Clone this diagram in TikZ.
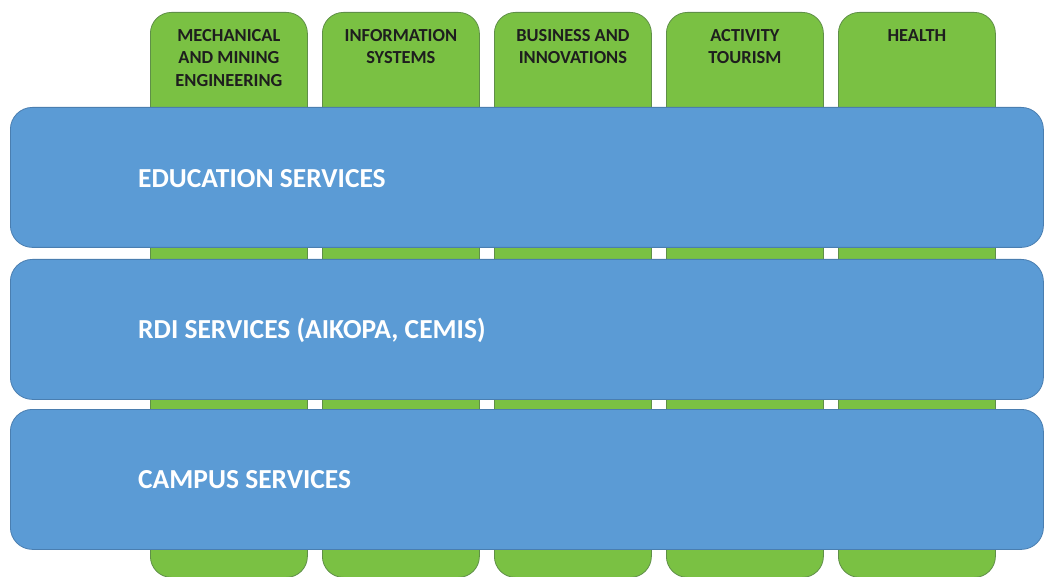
\documentclass[tikz,border=0pt]{standalone}
\usepackage{fontspec}
\setmainfont{Carlito}
\definecolor{colgreen}{HTML}{7AC143}
\definecolor{colgreenedge}{HTML}{5F8F48}
\definecolor{bandblue}{HTML}{5B9BD5}
\definecolor{bandedge}{HTML}{4A7EB0}
\definecolor{coltext}{HTML}{1E1E1E}
\begin{document}
\begin{tikzpicture}[x=1pt,y=-1pt,
  colbox/.style={draw=colgreenedge,fill=colgreen,line width=0.8pt,rounded corners=21pt,
    minimum width=157pt,minimum height=565pt,inner sep=0pt,anchor=north west},
  coltitle/.style={anchor=north,align=center,text=coltext,inner sep=0pt,
    font=\fontsize{18.4}{22.7}\selectfont\bfseries},
  bandbox/.style={draw=bandedge,fill=bandblue,line width=0.8pt,rounded corners=22pt,
    minimum width=1033pt,minimum height=140pt,inner sep=0pt,anchor=north west},
  bandtitle/.style={anchor=west,text=white,inner sep=0pt,
    font=\fontsize{27.5}{32}\selectfont\bfseries}]
\useasboundingbox (0,0) rectangle (1044,577);
\node[colbox] (c1) at (150,12) {};
\node[colbox] (c2) at (322,12) {};
\node[colbox] (c3) at (494,12) {};
\node[colbox] (c4) at (666,12) {};
\node[colbox] (c5) at (838,12) {};
\node[coltitle] (t1) at ([yshift=-17pt]c1.north) {MECHANICAL\\AND MINING\\ENGINEERING};
\node[coltitle] (t2) at ([yshift=-17pt]c2.north) {INFORMATION\\SYSTEMS};
\node[coltitle] (t3) at ([yshift=-17pt]c3.north) {BUSINESS AND\\INNOVATIONS};
\node[coltitle] (t4) at ([yshift=-17pt]c4.north) {ACTIVITY\\TOURISM};
\node[coltitle] (t5) at ([yshift=-17pt]c5.north) {HEALTH};
\node[bandbox] (b1) at (10,107) {};
\node[bandbox] (b2) at (10,259) {};
\node[bandbox] (b3) at (10,409) {};
\node[bandtitle] (l1) at (138,179) {EDUCATION SERVICES};
\node[bandtitle] (l2) at (138,330) {RDI SERVICES (AIKOPA, CEMIS)};
\node[bandtitle] (l3) at (138,480) {CAMPUS SERVICES};
\end{tikzpicture}
\end{document}
